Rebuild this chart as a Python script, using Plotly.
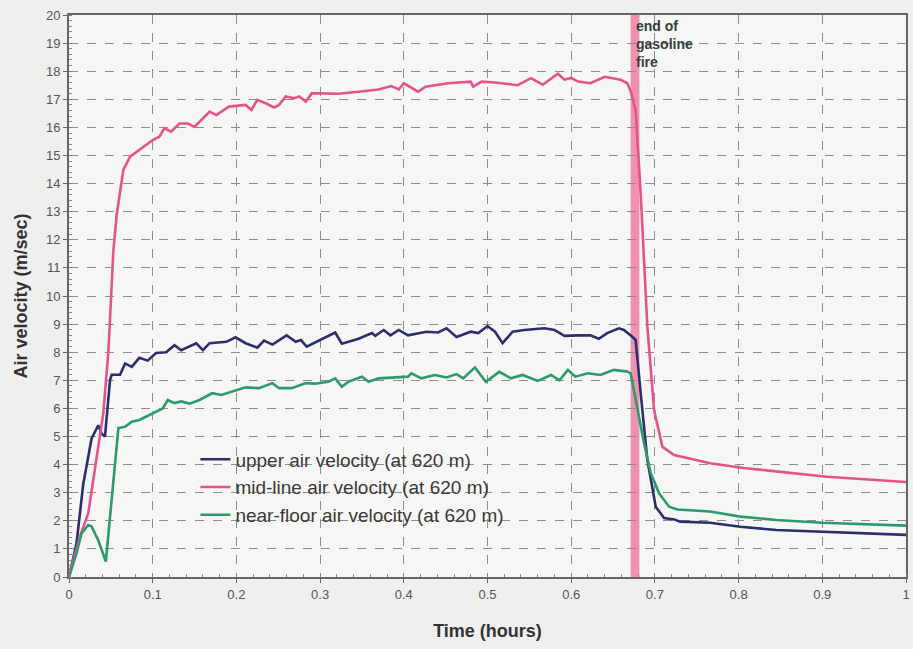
import plotly.graph_objects as go

# tiempo (horas) y velocidades (m/s)
t_upper = [0, 0.009, 0.017, 0.027, 0.035, 0.039, 0.043, 0.049, 0.051, 0.061, 0.067, 0.075, 0.084,
           0.094, 0.104, 0.116, 0.126, 0.134, 0.152, 0.16, 0.168, 0.188, 0.199, 0.211, 0.225,
           0.233, 0.243, 0.26, 0.271, 0.277, 0.284, 0.302, 0.318, 0.326, 0.346, 0.362, 0.366,
           0.376, 0.384, 0.394, 0.405, 0.427, 0.441, 0.451, 0.463, 0.48, 0.489, 0.5, 0.509,
           0.518, 0.53, 0.544, 0.568, 0.58, 0.592, 0.608, 0.623, 0.633, 0.643, 0.657, 0.663,
           0.673, 0.677, 0.683, 0.691, 0.701, 0.711, 0.723, 0.73, 0.766, 0.802, 0.845, 0.9, 1.0]
upper = [0, 1.2, 3.3, 4.93, 5.4, 5.1, 5.0, 7.0, 7.2, 7.2, 7.6, 7.48, 7.8,
         7.7, 7.97, 8.0, 8.25, 8.07, 8.32, 8.07, 8.32, 8.37, 8.53, 8.32, 8.16,
         8.41, 8.27, 8.6, 8.37, 8.43, 8.2, 8.48, 8.7, 8.3, 8.48, 8.68, 8.58,
         8.79, 8.6, 8.79, 8.6, 8.73, 8.7, 8.85, 8.54, 8.73, 8.68, 8.93, 8.73,
         8.32, 8.73, 8.79, 8.85, 8.79, 8.58, 8.6, 8.6, 8.48, 8.68, 8.85, 8.79,
         8.55, 8.43, 6.54, 4.16, 2.5, 2.1, 2.05, 1.97, 1.93, 1.79, 1.67, 1.61, 1.5]

t_mid = [0, 0.003, 0.013, 0.023, 0.029, 0.037, 0.041, 0.047, 0.053, 0.057, 0.065, 0.073, 0.088,
         0.1, 0.108, 0.114, 0.122, 0.132, 0.142, 0.15, 0.168, 0.176, 0.191, 0.203, 0.211,
         0.218, 0.225, 0.235, 0.245, 0.251, 0.259, 0.269, 0.275, 0.283, 0.29, 0.298, 0.322,
         0.346, 0.37, 0.385, 0.394, 0.4, 0.417, 0.426, 0.453, 0.48, 0.483, 0.493, 0.509,
         0.536, 0.552, 0.566, 0.584, 0.592, 0.6, 0.608, 0.623, 0.64, 0.659, 0.667, 0.671,
         0.677, 0.683, 0.691, 0.699, 0.709, 0.723, 0.766, 0.806, 0.905, 1.0]
mid = [0, 0.37, 1.43, 2.27, 3.45, 4.99, 5.83, 8.0, 11.6, 12.9, 14.5, 14.96, 15.3,
       15.55, 15.67, 15.97, 15.85, 16.14, 16.14, 16.02, 16.56, 16.44, 16.74, 16.76, 16.8,
       16.62, 16.98, 16.86, 16.71, 16.8, 17.1, 17.04, 17.1, 16.92, 17.21, 17.21, 17.2,
       17.27, 17.35, 17.47, 17.35, 17.57, 17.27, 17.45, 17.57, 17.63, 17.45, 17.63, 17.6,
       17.5, 17.75, 17.52, 17.91, 17.7, 17.76, 17.63, 17.57, 17.8, 17.7, 17.57, 17.3,
       16.6, 13.65, 8.9, 5.95, 4.63, 4.34, 4.05, 3.88, 3.57, 3.38]

t_floor = [0, 0.009, 0.015, 0.023, 0.027, 0.035, 0.044, 0.051, 0.059, 0.067, 0.075, 0.084,
           0.092, 0.104, 0.112, 0.118, 0.126, 0.134, 0.144, 0.156, 0.171, 0.182, 0.195,
           0.211, 0.227, 0.243, 0.251, 0.266, 0.283, 0.294, 0.31, 0.318, 0.326, 0.334,
           0.35, 0.358, 0.37, 0.385, 0.405, 0.409, 0.421, 0.437, 0.451, 0.463, 0.471,
           0.485, 0.498, 0.514, 0.528, 0.542, 0.56, 0.576, 0.586, 0.596, 0.605, 0.62,
           0.635, 0.651, 0.667, 0.671, 0.675, 0.687, 0.695, 0.705, 0.717, 0.727, 0.766,
           0.802, 0.845, 0.9, 1.0]
floor = [0, 0.85, 1.55, 1.85, 1.8, 1.3, 0.55, 2.86, 5.3, 5.35, 5.53, 5.59,
         5.7, 5.88, 6.0, 6.3, 6.19, 6.25, 6.17, 6.3, 6.54, 6.48, 6.6,
         6.75, 6.72, 6.9, 6.72, 6.72, 6.9, 6.88, 6.95, 7.07, 6.77, 6.95,
         7.13, 6.95, 7.07, 7.1, 7.13, 7.25, 7.07, 7.19, 7.1, 7.22, 7.07,
         7.46, 6.95, 7.3, 7.07, 7.19, 6.98, 7.19, 7.0, 7.37, 7.13, 7.25,
         7.19, 7.37, 7.31, 7.25, 6.65, 4.76, 3.7, 2.98, 2.5, 2.4, 2.33,
         2.15, 2.03, 1.93, 1.83]

x_ticks = [0, 0.1, 0.2, 0.3, 0.4, 0.5, 0.6, 0.7, 0.8, 0.9, 1]
x_labels = ["0", "0.1", "0.2", "0.3", "0.4", "0.5", "0.6", "0.7", "0.8", "0.9", "1"]

fig = go.Figure()

# franja de fin del incendio
fig.add_vrect(x0=0.671, x1=0.6815, fillcolor="#ef7fa2", opacity=0.85,
              line_width=0, layer="below")

fig.add_trace(go.Scatter(x=t_upper, y=upper, mode="lines",
                         name="upper air velocity (at 620 m)",
                         line=dict(color="#2b2f6e", width=2.6)))
fig.add_trace(go.Scatter(x=t_mid, y=mid, mode="lines",
                         name="mid-line air velocity (at 620 m)",
                         line=dict(color="#e4538c", width=2.6)))
fig.add_trace(go.Scatter(x=t_floor, y=floor, mode="lines",
                         name="near-floor air velocity (at 620 m)",
                         line=dict(color="#2c9a6c", width=2.6)))

fig.add_annotation(x=0.6745, y=19.95, xref="x", yref="y", xanchor="left", yanchor="top",
                   text="<b>end of<br>gasoline<br>fire</b>", showarrow=False, align="left",
                   font=dict(family="Arial, Liberation Sans", size=14, color="#34403a"))

fig.update_layout(
    width=913, height=649,
    margin=dict(l=69, r=3, t=15, b=72),
    paper_bgcolor="#efefed",
    plot_bgcolor="#f6f6f4",
    font=dict(family="Arial, Liberation Sans", color="#444"),
    showlegend=True,
    legend=dict(x=0.151, y=0.243, xanchor="left", yanchor="top",
                bgcolor="rgba(0,0,0,0)", font=dict(size=19, color="#3a3a3a"),
                tracegroupgap=0, itemwidth=30),
)
fig.update_xaxes(
    range=[0, 1], tickvals=x_ticks, ticktext=x_labels,
    showline=True, linecolor="#666", linewidth=2, mirror=True,
    ticks="outside", ticklen=4, tickcolor="#666",
    minor=dict(dtick=0.02, ticks="inside", ticklen=3, tickcolor="#888", showgrid=False),
    showgrid=True, gridcolor="#8e8e8e", griddash="dash", gridwidth=1,
    zeroline=False, tickfont=dict(size=13, color="#555"),
    title=dict(text="<b>Time (hours)</b>", font=dict(size=18, color="#333"), standoff=24),
)
fig.update_yaxes(
    range=[0, 20], dtick=1,
    showline=True, linecolor="#666", linewidth=2, mirror=True,
    ticks="outside", ticklen=4, tickcolor="#666",
    minor=dict(dtick=0.2, ticks="inside", ticklen=3, tickcolor="#888", showgrid=False),
    showgrid=True, gridcolor="#8e8e8e", griddash="dash", gridwidth=1,
    zeroline=False, tickfont=dict(size=13, color="#555"),
    title=dict(text="<b>Air velocity (m/sec)</b>", font=dict(size=18, color="#333"), standoff=14),
)

fig.write_html("out.html", config={"displayModeBar": False},
               post_script="document.body.style.margin='0';document.body.style.background='#efefed';")
